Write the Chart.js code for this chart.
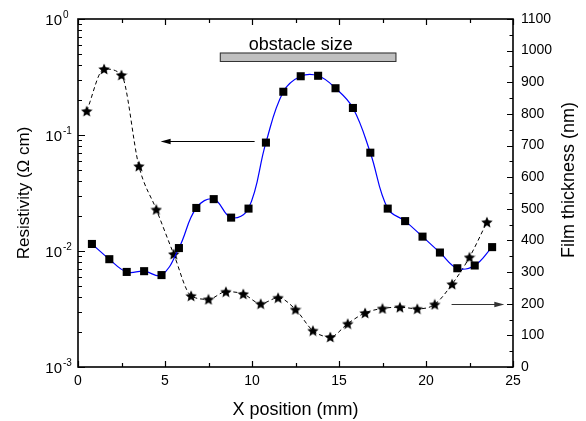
<!DOCTYPE html>
<html>
<head>
<meta charset="utf-8">
<script src="https://cdn.jsdelivr.net/npm/chart.js@4"></script>
<style>
  body { margin: 0; background: #fff; }
  canvas { display: block; }
</style>
</head>
<body>
<canvas id="chart" width="586" height="421"></canvas>
<script>
// resistivity (left, log axis) - squares
const xRes = [0.8, 1.8, 2.8, 3.8, 4.8, 5.8, 6.8, 7.8, 8.8, 9.8, 10.8, 11.8,
              12.8, 13.8, 14.8, 15.8, 16.8, 17.8, 18.8, 19.8, 20.8, 21.8, 22.8, 23.8];
const resistivity = [0.0115, 0.0085, 0.0066, 0.0067, 0.0062, 0.0106, 0.0235, 0.028, 0.0194, 0.0232, 0.086, 0.236,
                     0.321, 0.324, 0.253, 0.171, 0.0704, 0.0232, 0.0181, 0.0133, 0.0097, 0.0071, 0.0075, 0.0108];

// film thickness (right axis, nm) - stars
const xThick = [0.5, 1.5, 2.5, 3.5, 4.5, 5.5, 6.5, 7.5, 8.5, 9.5, 10.5, 11.5,
                12.5, 13.5, 14.5, 15.5, 16.5, 17.5, 18.5, 19.5, 20.5, 21.5, 22.5, 23.5];
const thickness = [809, 942, 923, 635, 498, 357, 225, 214, 238, 231, 200, 219,
                   182, 115, 95, 137, 171, 185, 189, 184, 198, 262, 347, 458];

const xTicks = [0, 5, 10, 15, 20, 25];
const thickTicks = [0, 100, 200, 300, 400, 500, 600, 700, 800, 900, 1000, 1100];
const decades = [0, -1, -2, -3];
const obstacleRange = [8.15, 18.3];

const FONT = '"Liberation Sans", Arial, sans-serif';

// filled five point star marker
function makeStar(size) {
  const c = document.createElement("canvas");
  c.width = size; c.height = size;
  const g = c.getContext("2d");
  const cx = size / 2, cy = size / 2 + 0.6, ro = size / 2, ri = ro * 0.46;
  g.beginPath();
  for (let i = 0; i < 10; i++) {
    const r = i % 2 ? ri : ro;
    const a = -Math.PI / 2 + i * Math.PI / 5;
    g.lineTo(cx + r * Math.cos(a), cy + r * Math.sin(a));
  }
  g.closePath();
  g.fillStyle = "#000";
  g.fill();
  return c;
}
const starImg = makeStar(12);

function arrow(ctx, x1, y, x2, color) {
  const dir = x2 > x1 ? 1 : -1;
  ctx.strokeStyle = color;
  ctx.fillStyle = color;
  ctx.lineWidth = 1.2;
  ctx.beginPath();
  ctx.moveTo(x1, y);
  ctx.lineTo(x2 - dir * 6, y);
  ctx.stroke();
  ctx.beginPath();
  ctx.moveTo(x2, y);
  ctx.lineTo(x2 - dir * 10, y - 2.8);
  ctx.lineTo(x2 - dir * 10, y + 2.8);
  ctx.closePath();
  ctx.fill();
}

const framePlugin = {
  id: "frame",
  afterDatasetsDraw(chart) {
    const ctx = chart.ctx;
    const a = chart.chartArea;
    const sx = chart.scales.x, sy = chart.scales.y, sy2 = chart.scales.y2;
    ctx.save();

    // obstacle bar + label
    const bx1 = sx.getPixelForValue(obstacleRange[0]);
    const bx2 = sx.getPixelForValue(obstacleRange[1]);
    const by1 = sy.getPixelForValue(0.514);
    const by2 = sy.getPixelForValue(0.426);
    ctx.fillStyle = "#c0c0c0";
    ctx.fillRect(bx1, by1, bx2 - bx1, by2 - by1);
    ctx.strokeStyle = "#333";
    ctx.lineWidth = 1;
    ctx.strokeRect(bx1 + 0.5, by1 + 0.5, bx2 - bx1 - 1, by2 - by1 - 1);
    ctx.fillStyle = "#000";
    ctx.font = "18px " + FONT;
    ctx.textAlign = "center";
    ctx.textBaseline = "alphabetic";
    ctx.fillText("obstacle size", sx.getPixelForValue(12.8), sy.getPixelForValue(0.541));

    // arrows pointing to each axis
    arrow(ctx, sx.getPixelForValue(10.15), Math.round(sy.getPixelForValue(0.088)) + 0.5, sx.getPixelForValue(4.75), "#000");
    arrow(ctx, sx.getPixelForValue(21.47), Math.round(sy2.getPixelForValue(200)) + 0.5, sx.getPixelForValue(24.5), "#333");

    // frame
    ctx.strokeStyle = "#000";
    ctx.lineWidth = 1.6;
    ctx.strokeRect(a.left, a.top, a.right - a.left, a.bottom - a.top);

    ctx.lineWidth = 1.2;
    ctx.beginPath();
    // x ticks, bottom and top, pointing in
    for (let v = 0; v <= 25; v += 2.5) {
      const px = Math.round(sx.getPixelForValue(v)) + 0.5;
      const len = v % 5 === 0 ? 6 : 4;
      ctx.moveTo(px, a.bottom); ctx.lineTo(px, a.bottom - len);
      ctx.moveTo(px, a.top); ctx.lineTo(px, a.top + len);
    }
    // log ticks on the left
    for (let e = -3; e <= 0; e++) {
      for (let m = 1; m <= 9; m++) {
        const v = m * Math.pow(10, e);
        if (v > 1) break;
        const py = Math.round(sy.getPixelForValue(v)) + 0.5;
        const len = m === 1 ? 7 : 4;
        ctx.moveTo(a.left, py); ctx.lineTo(a.left + len, py);
      }
    }
    // thickness ticks on the right
    for (let v = 0; v <= 1100; v += 50) {
      const py = Math.round(sy2.getPixelForValue(v)) + 0.5;
      const len = v % 100 === 0 ? 6 : 3.5;
      ctx.moveTo(a.right, py); ctx.lineTo(a.right - len, py);
    }
    ctx.stroke();

    // left tick labels 10^n
    ctx.fillStyle = "#000";
    decades.forEach(e => {
      const py = sy.getPixelForValue(Math.pow(10, e));
      ctx.font = "15px " + FONT;
      ctx.textAlign = "right";
      ctx.textBaseline = "middle";
      ctx.fillText("10", a.left - 16, py + 2);
      ctx.font = "10px " + FONT;
      ctx.textAlign = "left";
      ctx.textBaseline = "alphabetic";
      ctx.fillText(e === 0 ? "0" : "-" + (-e), a.left - 15, py - 1);
    });

    // axis titles
    ctx.textAlign = "center";
    ctx.textBaseline = "middle";
    ctx.font = "18px " + FONT;
    ctx.fillText("X position (mm)", (a.left + a.right) / 2, 410);

    ctx.save();
    ctx.translate(24, (a.top + a.bottom) / 2);
    ctx.rotate(-Math.PI / 2);
    ctx.font = "17px " + FONT;
    ctx.fillText("Resistivity (\u03A9 cm)", 0, 0);
    ctx.restore();

    ctx.save();
    ctx.translate(569, 180);
    ctx.rotate(-Math.PI / 2);
    ctx.font = "18px " + FONT;
    ctx.fillText("Film thickness (nm)", 0, 0);
    ctx.restore();

    ctx.restore();
  }
};

new Chart(document.getElementById("chart"), {
  type: "line",
  data: {
    datasets: [
      {
        label: "Resistivity",
        data: xRes.map((x, i) => ({ x: x, y: resistivity[i] })),
        yAxisID: "y",
        borderColor: "#0000ff",
        borderWidth: 1.2,
        tension: 0.4,
        pointStyle: "rect",
        pointRadius: 5.7,
        pointBorderWidth: 0,
        pointBackgroundColor: "#000",
        pointBorderColor: "#000"
      },
      {
        label: "Film thickness",
        data: xThick.map((x, i) => ({ x: x, y: thickness[i] })),
        yAxisID: "y2",
        borderColor: "#000",
        borderWidth: 1,
        borderDash: [4, 3],
        cubicInterpolationMode: "monotone",
        pointStyle: starImg,
        pointRadius: 6
      }
    ]
  },
  options: {
    responsive: false,
    devicePixelRatio: 1,
    animation: false,
    layout: { padding: { top: 19, left: 0, right: 0, bottom: 0 } },
    plugins: { legend: { display: false }, tooltip: { enabled: false } },
    scales: {
      x: {
        type: "linear",
        min: 0,
        max: 25,
        grid: { display: false, drawTicks: false },
        border: { display: false },
        afterBuildTicks: s => { s.ticks = xTicks.map(v => ({ value: v })); },
        ticks: {
          autoSkip: false,
          maxRotation: 0,
          padding: 6,
          color: "#000",
          font: { family: FONT, size: 14 },
          callback: v => String(v)
        },
        afterFit: s => { s.height = 54; }
      },
      y: {
        type: "logarithmic",
        position: "left",
        min: 0.001,
        max: 1,
        grid: { display: false, drawTicks: false },
        border: { display: false },
        ticks: { display: false },
        afterFit: s => { s.width = 78; }
      },
      y2: {
        type: "linear",
        position: "right",
        min: 0,
        max: 1100,
        grid: { display: false, drawTicks: false },
        border: { display: false },
        afterBuildTicks: s => { s.ticks = thickTicks.map(v => ({ value: v })); },
        ticks: {
          autoSkip: false,
          padding: 8,
          color: "#000",
          font: { family: FONT, size: 14 },
          callback: v => String(v)
        },
        afterFit: s => { s.width = 73; }
      }
    }
  },
  plugins: [framePlugin]
});
</script>
</body>
</html>
